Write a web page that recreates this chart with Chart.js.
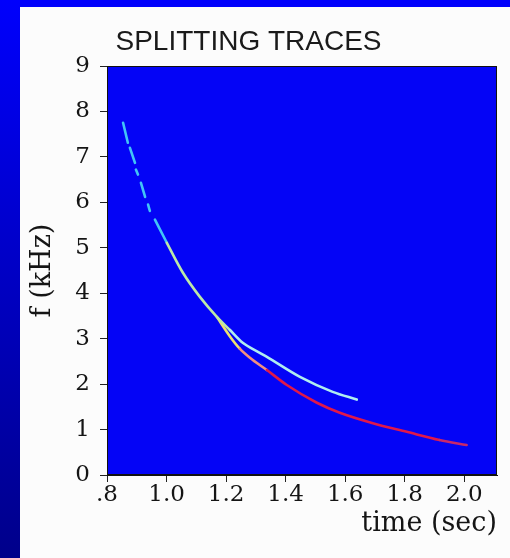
<!DOCTYPE html>
<html lang="en">
<head>
    <meta charset="UTF-8">
    <title>Splitting Traces</title>
    <script src="https://cdn.jsdelivr.net/npm/chart.js"></script>
    <style>
        body {
            margin: 0;
            width: 510px;
            height: 558px;
            overflow: hidden;
            position: relative;
            background-color: #0000fc;
        }
        .strip {
            position: absolute;
            left: 0;
            top: 0;
            width: 20px;
            height: 558px;
            background: linear-gradient(#0000fc, #00008a);
        }
        .panel {
            position: absolute;
            left: 20px;
            top: 7px;
            right: 0;
            bottom: 0;
            background-color: #fcfcfc;
        }
        #traceChart {
            position: absolute;
            left: 0;
            top: 0;
        }
    </style>
</head>
<body>
    <div class="strip"></div>
    <div class="panel"></div>
    <canvas id="traceChart" width="510" height="558"></canvas>

    <script>
        // upper trace (broken into short dashes at the start), f in kHz vs time in sec
        const upperTime = [0.854, 0.870, 0.873, 0.877, 0.894, 0.895, 0.897, 0.904, 0.909, 0.914, 0.928, 0.933,
                           0.938, 0.944, 0.952, 0.961, 1.001, 1.055, 1.112, 1.169, 1.213, 1.256, 1.313, 1.337,
                           1.448, 1.558, 1.639];
        const upperFreq = [7.75, 7.31, null, 7.20, 6.87, null, 6.72, 6.61, null, 6.43, 6.12, null,
                           5.95, 5.81, null, 5.62, 5.11, 4.45, 3.92, 3.48, 3.19, 2.91, 2.69, 2.60,
                           2.16, 1.83, 1.66];

        // lower branch splitting off near 1.17 s
        const lowerTime = [1.169, 1.213, 1.246, 1.280, 1.337, 1.404, 1.505, 1.582, 1.693, 1.807, 1.917, 2.008];
        const lowerFreq = [3.48, 3.05, 2.78, 2.58, 2.31, 1.98, 1.59, 1.37, 1.14, 0.95, 0.77, 0.66];

        const timeTicks = [0.8, 1.0, 1.2, 1.4, 1.6, 1.8, 2.0];
        const timeLabels = ['.8', '1.0', '1.2', '1.4', '1.6', '1.8', '2.0'];
        const freqTicks = [0, 1, 2, 3, 4, 5, 6, 7, 8, 9];

        function toPoints(xs, ys) {
            return xs.map((x, i) => ({ x: x, y: ys[i] }));
        }

        function upperColor(ctx) {
            const t = ctx.p0.parsed.x;
            if (t < 0.99) return '#42c4f6';
            if (t < 1.17) return '#bce8a8';
            return '#b0eef0';
        }

        function lowerColor(ctx) {
            const t = ctx.p0.parsed.x;
            if (t < 1.22) return '#ece070';
            if (t < 1.29) return '#f09080';
            if (t >= 1.9) return '#c8286a';
            return '#e0184a';
        }

        // blue plot field with a thin dark frame
        const plotField = {
            id: 'plotField',
            beforeDraw(chart) {
                const { ctx, chartArea: a } = chart;
                ctx.save();
                ctx.fillStyle = '#0404f6';
                ctx.fillRect(a.left, a.top, a.right - a.left, a.bottom - a.top);
                ctx.restore();
            },
            afterDraw(chart) {
                const { ctx, chartArea: a } = chart;
                ctx.save();
                ctx.strokeStyle = '#111';
                ctx.lineWidth = 1;
                ctx.strokeRect(a.left + 0.5, a.top + 0.5, a.right - a.left - 1, a.bottom - a.top - 1);
                ctx.restore();
            }
        };

        const serif = 'DejaVu Serif';
        const traceStyle = {
            showLine: true,
            borderWidth: 2.6,
            borderCapStyle: 'round',
            pointRadius: 0,
            spanGaps: false,
            cubicInterpolationMode: 'monotone'
        };

        new Chart(document.getElementById('traceChart'), {
            type: 'scatter',
            data: {
                datasets: [
                    Object.assign({ data: toPoints(upperTime, upperFreq), segment: { borderColor: upperColor } }, traceStyle),
                    Object.assign({ data: toPoints(lowerTime, lowerFreq), segment: { borderColor: lowerColor } }, traceStyle)
                ]
            },
            options: {
                responsive: false,
                animation: false,
                layout: { padding: { left: 0, right: 13, top: 0, bottom: 0 } },
                plugins: {
                    legend: { display: false },
                    tooltip: { enabled: false },
                    title: {
                        display: true,
                        text: 'SPLITTING TRACES',
                        color: '#1a1a1a',
                        font: { family: 'Liberation Sans', size: 28, weight: 'normal' },
                        padding: { top: 25, bottom: 7.4 }
                    }
                },
                scales: {
                    x: {
                        type: 'linear',
                        min: 0.8,
                        max: 2.11,
                        afterFit(scale) { scale.height = 83; },
                        afterBuildTicks(scale) { scale.ticks = timeTicks.map(v => ({ value: v })); },
                        ticks: {
                            autoSkip: false,
                            maxRotation: 0,
                            padding: 0,
                            color: '#151515',
                            font: { family: serif, size: 23, lineHeight: 1.1 },
                            callback: (v, i) => timeLabels[i]
                        },
                        grid: { drawOnChartArea: false, tickLength: 7, color: '#222' },
                        border: { color: '#111' },
                        title: {
                            display: true,
                            text: 'time (sec)',
                            align: 'end',
                            color: '#151515',
                            font: { family: serif, size: 27 },
                            padding: { top: 0, bottom: 17.8 }
                        }
                    },
                    y: {
                        min: 0,
                        max: 9,
                        afterFit(scale) { scale.width = 107; },
                        afterBuildTicks(scale) { scale.ticks = freqTicks.map(v => ({ value: v })); },
                        ticks: {
                            padding: 10,
                            color: '#151515',
                            font: { family: serif, size: 23 }
                        },
                        grid: { drawOnChartArea: false, tickLength: 7, color: '#222' },
                        border: { color: '#111' },
                        title: {
                            display: true,
                            text: 'f (kHz)',
                            color: '#151515',
                            font: { family: serif, size: 27 },
                            padding: { top: 26.8, bottom: 0 }
                        }
                    }
                }
            },
            plugins: [plotField]
        });
    </script>
</body>
</html>
